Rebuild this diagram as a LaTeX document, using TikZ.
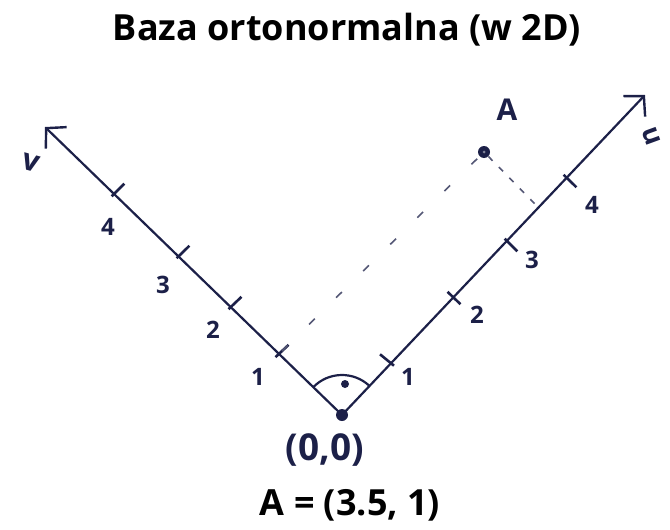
\documentclass[tikz,border=0pt]{standalone}
\usepackage{fontspec}
\setmainfont{Open Sans}
\usetikzlibrary{arrows.meta,calc}
\definecolor{ink}{RGB}{28,32,72}
\begin{document}
\begin{tikzpicture}[x=1pt,y=-1pt,
  axis/.style={ink,line width=2.2pt,-{Straight Barb[length=14pt,width=30pt,line width=2.4pt]}},
  tickmark/.style={ink,line width=2.6pt},
  lbl/.style={ink,font=\fontsize{24}{24}\selectfont\bfseries,inner sep=0pt},
  dotnode/.style={circle,fill=ink,inner sep=0pt,minimum size=12pt},
  helper/.style={ink!75,line width=1.6pt}]
\useasboundingbox (0,0) rectangle (670,530);
\node[font=\fontsize{36}{36}\selectfont\bfseries] (title) at (347,30) {Baza ortonormalna (w 2D)};
\coordinate (O) at (342,415);
\coordinate (ue) at (645,95);
\coordinate (ve) at (45,127);
\coordinate (u1) at (387,360);
\coordinate (u2) at (454,298);
\coordinate (u3) at (511,245);
\coordinate (u4) at (570,181);
\coordinate (v1) at (282,351);
\coordinate (v2) at (235,303);
\coordinate (v3) at (183,252);
\coordinate (v4) at (118,190);
\coordinate (Ap) at (537,206);
\draw[axis] (O) -- (ue);
\draw[axis] (O) -- (ve);
\foreach \t in {u1,u2,u3,u4,v1,v2,v3,v4}
  \draw[tickmark] ($(\t)!9pt!90:(O)$) -- ($(\t)!9pt!-90:(O)$);
\node[lbl] (lu1) at (408,377) {1};
\node[lbl] (lu2) at (477,315) {2};
\node[lbl] (lu3) at (532,260) {3};
\node[lbl] (lu4) at (592,205) {4};
\node[lbl] (lv1) at (258,377) {1};
\node[lbl] (lv2) at (213,330) {2};
\node[lbl] (lv3) at (163,285) {3};
\node[lbl] (lv4) at (108,227) {4};
\node[lbl,font=\fontsize{27}{27}\selectfont\bfseries,rotate=-70] (lu) at (651,136) {u};
\node[lbl,font=\fontsize{30}{30}\selectfont\bfseries,rotate=-15] (lv) at (31,163) {v};
\draw[ink,line width=2.2pt] (O) ++(136:40pt) arc[start angle=136,end angle=46.6,radius=40pt];
\node[circle,fill=ink,inner sep=0pt,minimum size=8pt] (rdot) at (345,384) {};
\node[dotnode] (Odot) at (O) {};
\node[dotnode] (A) at (484,152) {};
\node[circle,fill=ink!55,inner sep=0pt,minimum size=3pt] at (A) {};
\node[lbl,font=\fontsize{30}{30}\selectfont\bfseries] (lA) at (507,110) {A};
\draw[helper,dash pattern=on 8pt off 30pt] (v1) -- (A);
\draw[helper,dash pattern=on 6pt off 9pt] (A) -- (Ap);
\node[ink,font=\fontsize{37}{37}\selectfont\bfseries] (origin) at (325,450) {(0,0)};
\node[font=\fontsize{36}{36}\selectfont\bfseries] (eq) at (350,505) {A = (3.5, 1)};
\end{tikzpicture}
\end{document}
